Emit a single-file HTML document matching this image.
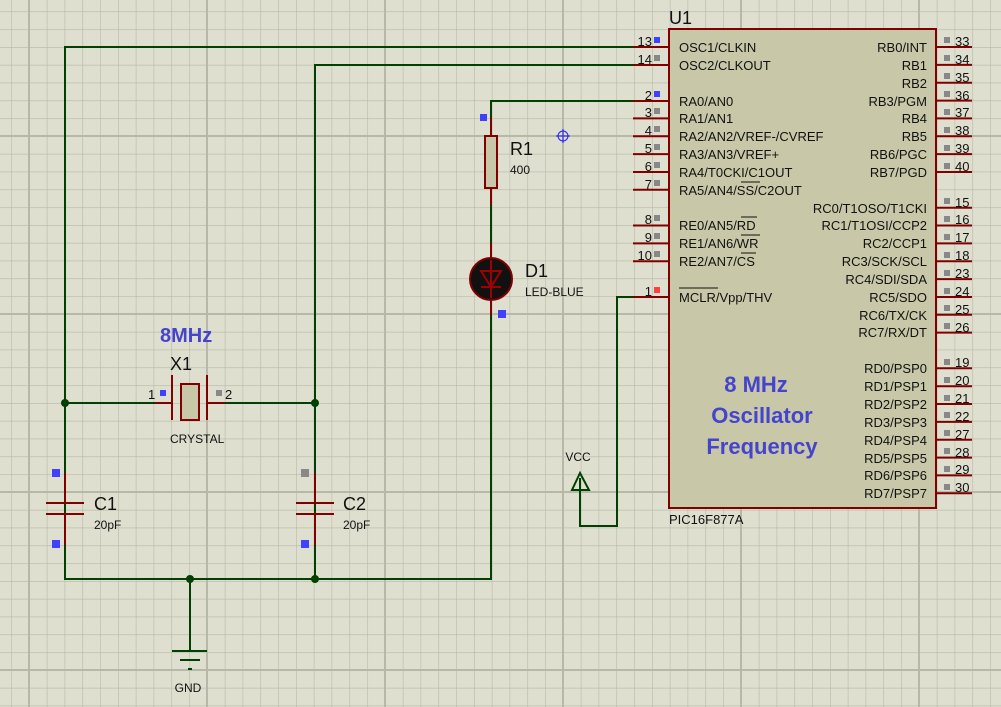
<!DOCTYPE html>
<html><head><meta charset="utf-8"><style>
html,body{margin:0;padding:0;background:#dfdfd0;}
svg{display:block;}
text{font-family:"Liberation Sans",Arial,sans-serif;fill:#111;}
.pl{stroke:#800000;stroke-width:2;}
.w{stroke:#004000;stroke-width:2;fill:none;}
.l{font-size:13px;}
.r{font-size:13px;text-anchor:end;}
.n{font-size:13px;}
.nr{font-size:13px;text-anchor:end;}
</style></head><body>
<svg width="1001" height="707" xmlns="http://www.w3.org/2000/svg">
<defs>
<pattern id="g" x="11.2" y="11.4" width="17.8" height="17.8" patternUnits="userSpaceOnUse">
<path d="M0 0H17.8M0 0V17.8" stroke="#b8b8a8" stroke-width="1.2" fill="none"/>
</pattern>
</defs>
<rect width="1001" height="707" fill="#dfdfd0"/>
<rect width="1001" height="707" fill="url(#g)"/>
<g stroke="#b8b8a8" stroke-width="2">
<line x1="29" y1="0" x2="29" y2="707"/><line x1="207" y1="0" x2="207" y2="707"/><line x1="385" y1="0" x2="385" y2="707"/><line x1="563" y1="0" x2="563" y2="707"/><line x1="741" y1="0" x2="741" y2="707"/><line x1="919" y1="0" x2="919" y2="707"/>
<line x1="0" y1="136" x2="1001" y2="136"/><line x1="0" y1="314" x2="1001" y2="314"/><line x1="0" y1="492" x2="1001" y2="492"/><line x1="0" y1="670" x2="1001" y2="670"/>
</g>

<!-- wires -->
<path class="w" d="M633 47H65V579H491V315"/>
<path class="w" d="M633 65H315V579"/>
<path class="w" d="M633 101H491V118"/>
<path class="w" d="M491 205V243"/>
<path class="w" d="M65 403H155M225 403H315"/>
<path class="w" d="M190 579V651"/>
<path class="w" d="M633 297H617V526H580V478"/>
<path d="M580 473L572 490H589Z" fill="none" stroke="#004000" stroke-width="2"/>
<g stroke="#004000" stroke-width="2"><line x1="172" y1="651" x2="207" y2="651"/><line x1="180" y1="660" x2="200" y2="660"/><line x1="188" y1="669" x2="192" y2="669"/></g>
<g fill="#004000"><circle cx="65" cy="403" r="4"/><circle cx="315" cy="403" r="4"/><circle cx="315" cy="579" r="4"/><circle cx="190" cy="579" r="4"/></g>

<!-- chip -->
<rect x="669" y="29" width="267" height="479" fill="#c8c8a8" stroke="#800000" stroke-width="2"/>
<g class="pl">
<line x1="633" y1="47" x2="669" y2="47"/><line x1="633" y1="65" x2="669" y2="65"/><line x1="633" y1="101" x2="669" y2="101"/><line x1="633" y1="118.4" x2="669" y2="118.4"/><line x1="633" y1="136.3" x2="669" y2="136.3"/><line x1="633" y1="154.1" x2="669" y2="154.1"/><line x1="633" y1="172" x2="669" y2="172"/><line x1="633" y1="189.8" x2="669" y2="189.8"/><line x1="633" y1="225.5" x2="669" y2="225.5"/><line x1="633" y1="243.4" x2="669" y2="243.4"/><line x1="633" y1="261.2" x2="669" y2="261.2"/><line x1="633" y1="297" x2="669" y2="297"/>
<line x1="936" y1="47" x2="972" y2="47"/><line x1="936" y1="64.9" x2="972" y2="64.9"/><line x1="936" y1="82.7" x2="972" y2="82.7"/><line x1="936" y1="100.6" x2="972" y2="100.6"/><line x1="936" y1="118.4" x2="972" y2="118.4"/><line x1="936" y1="136.3" x2="972" y2="136.3"/><line x1="936" y1="154.1" x2="972" y2="154.1"/><line x1="936" y1="172" x2="972" y2="172"/>
<line x1="936" y1="207.7" x2="972" y2="207.7"/><line x1="936" y1="225.5" x2="972" y2="225.5"/><line x1="936" y1="243.4" x2="972" y2="243.4"/><line x1="936" y1="261.2" x2="972" y2="261.2"/><line x1="936" y1="279.1" x2="972" y2="279.1"/><line x1="936" y1="297" x2="972" y2="297"/><line x1="936" y1="314.8" x2="972" y2="314.8"/><line x1="936" y1="332.6" x2="972" y2="332.6"/>
<line x1="936" y1="368.3" x2="972" y2="368.3"/><line x1="936" y1="386.2" x2="972" y2="386.2"/><line x1="936" y1="404" x2="972" y2="404"/><line x1="936" y1="421.9" x2="972" y2="421.9"/><line x1="936" y1="439.7" x2="972" y2="439.7"/><line x1="936" y1="457.6" x2="972" y2="457.6"/><line x1="936" y1="475.4" x2="972" y2="475.4"/><line x1="936" y1="493.3" x2="972" y2="493.3"/>
</g>
<!-- left pin squares -->
<g fill="#888"><rect x="654" y="55" width="6" height="6"/><rect x="654" y="108" width="6" height="6"/><rect x="654" y="126" width="6" height="6"/><rect x="654" y="144" width="6" height="6"/><rect x="654" y="162" width="6" height="6"/><rect x="654" y="180" width="6" height="6"/><rect x="654" y="215" width="6" height="6"/><rect x="654" y="233" width="6" height="6"/><rect x="654" y="251" width="6" height="6"/></g>
<rect x="654" y="37" width="6" height="6" fill="#4040ff"/><rect x="654" y="91" width="6" height="6" fill="#4040ff"/><rect x="654" y="287" width="6" height="6" fill="#ff4040"/>
<g class="nr"><text x="652" y="46">13</text><text x="652" y="64">14</text><text x="652" y="100">2</text><text x="652" y="117">3</text><text x="652" y="135">4</text><text x="652" y="153">5</text><text x="652" y="171">6</text><text x="652" y="189">7</text><text x="652" y="224">8</text><text x="652" y="242">9</text><text x="652" y="260">10</text><text x="652" y="296">1</text></g>
<!-- right squares -->
<g fill="#888">
<rect x="944" y="37" width="6" height="6"/><rect x="944" y="55" width="6" height="6"/><rect x="944" y="73" width="6" height="6"/><rect x="944" y="91" width="6" height="6"/><rect x="944" y="109" width="6" height="6"/><rect x="944" y="127" width="6" height="6"/><rect x="944" y="145" width="6" height="6"/><rect x="944" y="163" width="6" height="6"/>
<rect x="944" y="198" width="6" height="6"/><rect x="944" y="216" width="6" height="6"/><rect x="944" y="234" width="6" height="6"/><rect x="944" y="252" width="6" height="6"/><rect x="944" y="270" width="6" height="6"/><rect x="944" y="288" width="6" height="6"/><rect x="944" y="305" width="6" height="6"/><rect x="944" y="323" width="6" height="6"/>
<rect x="944" y="359" width="6" height="6"/><rect x="944" y="377" width="6" height="6"/><rect x="944" y="395" width="6" height="6"/><rect x="944" y="412" width="6" height="6"/><rect x="944" y="430" width="6" height="6"/><rect x="944" y="448" width="6" height="6"/><rect x="944" y="466" width="6" height="6"/><rect x="944" y="484" width="6" height="6"/>
</g>
<g class="n">
<text x="955" y="46">33</text><text x="955" y="64">34</text><text x="955" y="82">35</text><text x="955" y="100">36</text><text x="955" y="117">37</text><text x="955" y="135">38</text><text x="955" y="153">39</text><text x="955" y="171">40</text>
<text x="955" y="207">15</text><text x="955" y="224">16</text><text x="955" y="242">17</text><text x="955" y="260">18</text><text x="955" y="278">23</text><text x="955" y="296">24</text><text x="955" y="314">25</text><text x="955" y="332">26</text>
<text x="955" y="367">19</text><text x="955" y="385">20</text><text x="955" y="403">21</text><text x="955" y="421">22</text><text x="955" y="439">27</text><text x="955" y="457">28</text><text x="955" y="474">29</text><text x="955" y="492">30</text>
</g>
<g class="l">
<text x="679" y="52">OSC1/CLKIN</text><text x="679" y="70">OSC2/CLKOUT</text><text x="679" y="106">RA0/AN0</text><text x="679" y="123">RA1/AN1</text><text x="679" y="141">RA2/AN2/VREF-/CVREF</text><text x="679" y="159">RA3/AN3/VREF+</text><text x="679" y="177">RA4/T0CKI/C1OUT</text><text x="679" y="195">RA5/AN4/SS/C2OUT</text>
<text x="679" y="230">RE0/AN5/RD</text><text x="679" y="248">RE1/AN6/WR</text><text x="679" y="266">RE2/AN7/CS</text><text x="679" y="302">MCLR/Vpp/THV</text>
</g>
<g stroke="#111" stroke-width="1">
<line x1="741" y1="182" x2="760" y2="182"/><line x1="741" y1="217" x2="757" y2="217"/><line x1="741" y1="235" x2="760" y2="235"/><line x1="741" y1="253" x2="756" y2="253"/><line x1="679" y1="288" x2="718" y2="288"/>
</g>
<g class="r">
<text x="927" y="52">RB0/INT</text><text x="927" y="70">RB1</text><text x="927" y="88">RB2</text><text x="927" y="106">RB3/PGM</text><text x="927" y="123">RB4</text><text x="927" y="141">RB5</text><text x="927" y="159">RB6/PGC</text><text x="927" y="177">RB7/PGD</text>
<text x="927" y="213">RC0/T1OSO/T1CKI</text><text x="927" y="230">RC1/T1OSI/CCP2</text><text x="927" y="248">RC2/CCP1</text><text x="927" y="266">RC3/SCK/SCL</text><text x="927" y="284">RC4/SDI/SDA</text><text x="927" y="302">RC5/SDO</text><text x="927" y="320">RC6/TX/CK</text><text x="927" y="337">RC7/RX/DT</text>
<text x="927" y="373">RD0/PSP0</text><text x="927" y="391">RD1/PSP1</text><text x="927" y="409">RD2/PSP2</text><text x="927" y="427">RD3/PSP3</text><text x="927" y="445">RD4/PSP4</text><text x="927" y="463">RD5/PSP5</text><text x="927" y="480">RD6/PSP6</text><text x="927" y="498">RD7/PSP7</text>
</g>
<text x="669" y="24" style="font-size:18px">U1</text>
<text x="669" y="524" style="font-size:13px">PIC16F877A</text>
<g style="font-size:22px;font-weight:bold;text-anchor:middle"><text x="756" y="392" style="fill:#4444cc">8 MHz</text><text x="762" y="423" style="fill:#4444cc">Oscillator</text><text x="762" y="454" style="fill:#4444cc">Frequency</text></g>

<!-- R1 -->
<line class="pl" x1="491" y1="118" x2="491" y2="136"/><line class="pl" x1="491" y1="188" x2="491" y2="205"/>
<rect x="485" y="136" width="12" height="52" fill="#c8c8a8" stroke="#800000" stroke-width="2"/>
<rect x="480" y="114" width="7" height="7" fill="#4040ff"/>
<text x="510" y="155" style="font-size:18px">R1</text><text x="510" y="174" style="font-size:12px">400</text>
<g stroke="#2020ff" stroke-width="1" fill="none"><circle cx="563" cy="136" r="5"/><line x1="556" y1="136" x2="570" y2="136"/><line x1="563" y1="129" x2="563" y2="143"/></g>
<!-- LED -->
<line class="pl" x1="491" y1="243" x2="491" y2="315"/>
<circle cx="491" cy="279" r="21" fill="#111" stroke="#800000" stroke-width="2"/>
<path d="M481 271H501L491 287Z" fill="none" stroke="#a00000" stroke-width="2"/>
<line x1="481" y1="287" x2="501" y2="287" stroke="#a00000" stroke-width="2"/>
<line x1="491" y1="260" x2="491" y2="298" stroke="#a00000" stroke-width="2"/>
<rect x="498" y="310" width="8" height="8" fill="#4040ff"/>
<text x="525" y="277" style="font-size:18px">D1</text><text x="525" y="296" style="font-size:12px">LED-BLUE</text>
<!-- crystal -->
<line class="pl" x1="155" y1="403" x2="172" y2="403"/><line class="pl" x1="207" y1="403" x2="225" y2="403"/>
<line class="pl" x1="172" y1="375" x2="172" y2="420"/><line class="pl" x1="207" y1="375" x2="207" y2="420"/>
<rect x="181" y="384" width="18" height="36" fill="#c8c8a8" stroke="#800000" stroke-width="2"/>
<rect x="160" y="390" width="6" height="6" fill="#4040ff"/><rect x="216" y="390" width="6" height="6" fill="#888"/>
<text x="148" y="399" class="n">1</text><text x="225" y="399" class="n">2</text>
<text x="160" y="342" style="font-size:20px;font-weight:bold;fill:#4444cc">8MHz</text>
<text x="170" y="370" style="font-size:18px">X1</text>
<text x="170" y="443" style="font-size:12px">CRYSTAL</text>
<!-- C1 -->
<line class="pl" x1="65" y1="473" x2="65" y2="503"/><line class="pl" x1="65" y1="514" x2="65" y2="545"/>
<line class="pl" x1="46" y1="503" x2="84" y2="503"/><line class="pl" x1="46" y1="514" x2="84" y2="514"/>
<rect x="52" y="469" width="8" height="8" fill="#4040ff"/><rect x="52" y="540" width="8" height="8" fill="#4040ff"/>
<text x="94" y="510" style="font-size:18px">C1</text><text x="94" y="529" style="font-size:12px">20pF</text>
<!-- C2 -->
<line class="pl" x1="315" y1="473" x2="315" y2="503"/><line class="pl" x1="315" y1="514" x2="315" y2="545"/>
<line class="pl" x1="296" y1="503" x2="334" y2="503"/><line class="pl" x1="296" y1="514" x2="334" y2="514"/>
<rect x="301" y="469" width="8" height="8" fill="#888"/><rect x="301" y="540" width="8" height="8" fill="#4040ff"/>
<text x="343" y="510" style="font-size:18px">C2</text><text x="343" y="529" style="font-size:12px">20pF</text>
<text x="578" y="461" style="font-size:12px;text-anchor:middle">VCC</text>
<text x="188" y="692" style="font-size:12px;text-anchor:middle">GND</text>
</svg>
</body></html>
